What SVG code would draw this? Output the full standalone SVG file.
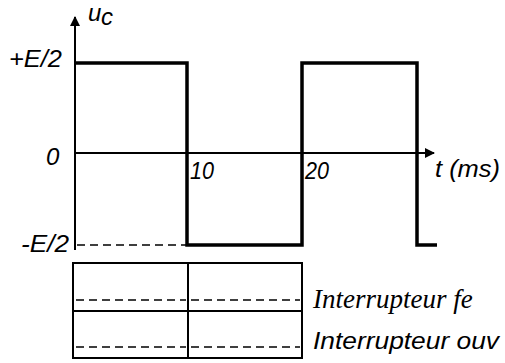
<svg xmlns="http://www.w3.org/2000/svg" width="505" height="363" viewBox="0 0 505 363">
<defs>
<marker id="ah" markerWidth="10" markerHeight="10" refX="9" refY="5" orient="auto" markerUnits="userSpaceOnUse">
<path d="M0,0 L10,5 L0,10 Z" fill="#000"/>
</marker>
<style>
.ax{stroke:#000;stroke-width:2;fill:none}
.wave{stroke:#000;stroke-width:3.5;fill:none;stroke-linejoin:miter}
.dash{stroke:#000;stroke-width:1.3;stroke-dasharray:8 5;fill:none}
.tbl{stroke:#000;stroke-width:2;fill:none}
.lbl{font-family:"Liberation Sans",Arial,sans-serif;font-style:italic;font-size:24px;fill:#000}
.serif{font-family:"Liberation Serif","Times New Roman",serif;font-style:italic;font-size:27px;fill:#000}
</style>
</defs>
<rect width="505" height="363" fill="#fff"/>
<g id="axes">
<line class="ax" x1="75" y1="250" x2="75" y2="17" marker-end="url(#ah)"/>
<line class="ax" x1="75" y1="153" x2="434" y2="153" marker-end="url(#ah)"/>
</g>
<g id="connectors">
<path class="wave" d="M75,63 H187 V245 H302 V63 H417 V245 H437"/>
<line class="dash" x1="77" y1="245" x2="187" y2="245"/>
</g>
<g id="labels">
<text class="lbl" x="88" y="21" font-size="22">u</text>
<text class="lbl" x="101" y="25" font-size="17">c</text>
<text class="lbl" x="9" y="67" textLength="53" lengthAdjust="spacingAndGlyphs">+E/2</text>
<text class="lbl" x="46" y="165">0</text>
<text class="lbl" x="190" y="179" textLength="24" lengthAdjust="spacingAndGlyphs">10</text>
<text class="lbl" x="305" y="179" textLength="24" lengthAdjust="spacingAndGlyphs">20</text>
<text class="lbl" x="435" y="177" textLength="65" lengthAdjust="spacingAndGlyphs">t (ms)</text>
<text class="lbl" x="21" y="252" textLength="48" lengthAdjust="spacingAndGlyphs">-E/2</text>
</g>
<g id="table">
<rect class="tbl" x="73" y="263" width="229" height="95"/>
<line class="tbl" x1="73" y1="311" x2="302" y2="311"/>
<line class="tbl" x1="188" y1="263" x2="188" y2="358"/>
<line class="dash" x1="76" y1="300" x2="186" y2="300"/>
<line class="dash" x1="191" y1="300" x2="300" y2="300"/>
<line class="dash" x1="76" y1="347" x2="186" y2="347"/>
<line class="dash" x1="191" y1="347" x2="300" y2="347"/>
<text class="serif" x="313" y="308">Interrupteur fe</text>
<text class="lbl" x="313" y="349" textLength="186" lengthAdjust="spacingAndGlyphs">Interrupteur ouv</text>
</g>
</svg>
